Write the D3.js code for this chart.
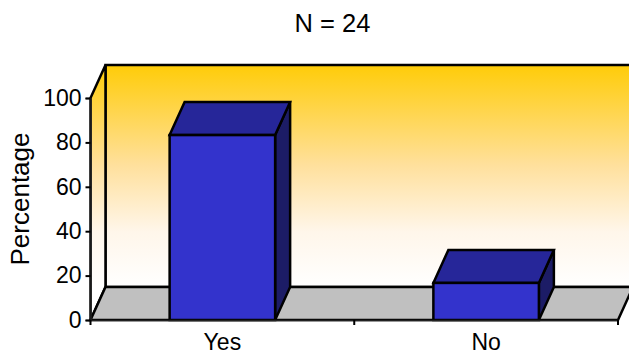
<!DOCTYPE html>
<html>
<head>
<meta charset="utf-8">
<script src="https://cdn.jsdelivr.net/npm/d3@7"></script>
<style>
	html, body { margin: 0; padding: 0; background: #fff; }
	svg { display: block; }
	text { font-family: "Liberation Sans", Arial, sans-serif; fill: #000; }
</style>
</head>
<body>
<div id="wrapper"></div>
<script>
// 3D style column chart, share of yes / no answers
const categories = ["Yes", "No"]
const percentages = [83.3, 16.7]
const yTicks = [0, 20, 40, 60, 80, 100]
const chartTitle = "N = 24"
const yLabel = "Percentage"

const dimensions = {
	width: 629,
	height: 354,
	margin: { top: 98, right: 11, bottom: 34, left: 90.5 }
}
dimensions.boundedWidth = dimensions.width - dimensions.margin.left - dimensions.margin.right
dimensions.boundedHeight = dimensions.height - dimensions.margin.top - dimensions.margin.bottom

// offset of the back plane from the front plane
const depth = { x: 15, y: -33 }
const edgeWidth = 2.5

const colors = {
	front: "#3333cc",
	top: "#262699",
	side: "#1c1c66",
	floor: "#c0c0c0"
}

const wallStops = [
	{ offset: 0, color: "#ffcc08" },
	{ offset: 0.45, color: "#ffe09c" },
	{ offset: 0.75, color: "#fff6ea" },
	{ offset: 1, color: "#ffffff" }
]

const wrapper = d3.select("#wrapper")
	.append("svg")
	.attr("width", dimensions.width)
	.attr("height", dimensions.height)

const defs = wrapper.append("defs")

const addGradient = (id, y1, y2) => {
	defs.append("linearGradient")
		.attr("id", id)
		.attr("gradientUnits", "userSpaceOnUse")
		.attr("x1", 0).attr("x2", 0)
		.attr("y1", y1).attr("y2", y2)
		.selectAll("stop")
		.data(wallStops)
		.join("stop")
		.attr("offset", d => d.offset)
		.attr("stop-color", d => d.color)
}

const bounds = wrapper.append("g")
	.attr("transform", `translate(${dimensions.margin.left}, ${dimensions.margin.top})`)

// Scales
const xScale = d3.scaleBand()
	.domain(categories)
	.range([0, dimensions.boundedWidth])
	.paddingInner(0.6)
	.paddingOuter(0.3)

const yScale = d3.scaleLinear()
	.domain([0, 100])
	.range([dimensions.boundedHeight, 0])

addGradient("wall", depth.y, yScale(0) + depth.y)

const polygon = points => points.map(p => p.join(",")).join(" ")

const x0 = 0
const x1 = dimensions.boundedWidth
const yBase = yScale(0)
const yMax = yScale(100)
// runs past the svg edge, the back wall is cut off on the right
const backRight = dimensions.boundedWidth + depth.x

// Walls and floor
bounds.append("polygon")
	.attr("points", polygon([
		[x0 + depth.x, yMax + depth.y],
		[backRight, yMax + depth.y],
		[backRight, yBase + depth.y],
		[x0 + depth.x, yBase + depth.y]
	]))
	.attr("fill", "url(#wall)")
	.attr("stroke", "#000")
	.attr("stroke-width", edgeWidth)

bounds.append("polygon")
	.attr("points", polygon([
		[x0, yMax],
		[x0 + depth.x, yMax + depth.y],
		[x0 + depth.x, yBase + depth.y],
		[x0, yBase]
	]))
	.attr("fill", "url(#wall)")
	.attr("stroke", "#000")
	.attr("stroke-width", edgeWidth)

bounds.append("polygon")
	.attr("points", polygon([
		[x0, yBase],
		[x0 + depth.x, yBase + depth.y],
		[backRight, yBase + depth.y],
		[x1, yBase]
	]))
	.attr("fill", colors.floor)
	.attr("stroke", "#000")
	.attr("stroke-width", edgeWidth)

// Bars, each one a front, top and side face
const barGroups = bounds.append("g")
	.selectAll("g")
	.data(categories.map((c, i) => ({ category: c, value: percentages[i] })))
	.join("g")
	.attr("stroke", "#000")
	.attr("stroke-width", edgeWidth)
	.attr("stroke-linejoin", "miter")

const barLeft = d => xScale(d.category)
const barRight = d => xScale(d.category) + xScale.bandwidth()
const barTop = d => yScale(d.value)

barGroups.append("polygon")
	.attr("points", d => polygon([
		[barRight(d), barTop(d)],
		[barRight(d) + depth.x, barTop(d) + depth.y],
		[barRight(d) + depth.x, yBase + depth.y],
		[barRight(d), yBase]
	]))
	.attr("fill", colors.side)

barGroups.append("polygon")
	.attr("points", d => polygon([
		[barLeft(d), barTop(d)],
		[barLeft(d) + depth.x, barTop(d) + depth.y],
		[barRight(d) + depth.x, barTop(d) + depth.y],
		[barRight(d), barTop(d)]
	]))
	.attr("fill", colors.top)

barGroups.append("rect")
	.attr("x", barLeft)
	.attr("y", barTop)
	.attr("width", xScale.bandwidth())
	.attr("height", d => yBase - barTop(d))
	.attr("fill", colors.front)

// Axes
const yAxisGenerator = d3.axisLeft(yScale)
	.tickValues(yTicks)
	.tickSize(5)
	.tickPadding(4)

const yAxis = bounds.append("g").call(yAxisGenerator)

const xAxisGenerator = d3.axisBottom(xScale)
	.tickSize(0)
	.tickPadding(14)

const xAxis = bounds.append("g")
	.attr("transform", `translate(0, ${yBase})`)
	.call(xAxisGenerator)

// the category ticks sit between the bars, not under them
const boundary = i => i * dimensions.boundedWidth / categories.length
xAxis.selectAll(".boundary")
	.data(d3.range(categories.length + 1))
	.join("line")
	.attr("class", "boundary")
	.attr("x1", boundary)
	.attr("x2", boundary)
	.attr("y1", 0)
	.attr("y2", 5)
	.attr("stroke", "#000")
	.attr("stroke-width", 2)

for (const axis of [yAxis, xAxis]) {
	axis.selectAll(".domain").attr("stroke", "#222").attr("stroke-width", 1.5)
	axis.selectAll(".tick line").attr("stroke", "#000").attr("stroke-width", 2)
	axis.selectAll(".tick text")
		.style("font-size", "23px")
		.style("font-family", "'Liberation Sans', Arial, sans-serif")
		.attr("fill", "#000")
}

// Labels
wrapper.append("text")
	.attr("x", 332.5)
	.attr("y", 32)
	.attr("text-anchor", "middle")
	.style("font-size", "25.5px")
	.text(chartTitle)

wrapper.append("text")
	.attr("transform", "translate(29, 199) rotate(-90)")
	.attr("text-anchor", "middle")
	.style("font-size", "26px")
	.text(yLabel)
</script>
</body>
</html>
